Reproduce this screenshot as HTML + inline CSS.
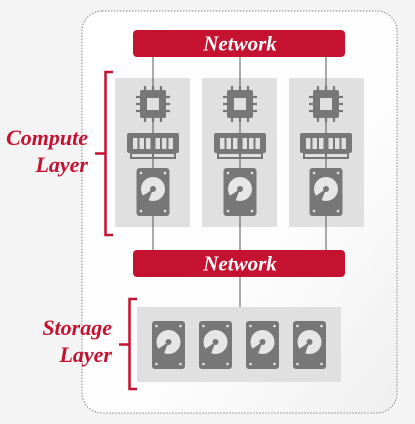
<!DOCTYPE html>
<html><head><style>
html,body{margin:0;padding:0;width:415px;height:424px;overflow:hidden;background:#f4f4f4}
svg{display:block}
text{font-family:"Liberation Serif",serif;font-style:italic;font-weight:bold}
</style></head><body>
<svg width="415" height="424" viewBox="0 0 415 424" xmlns="http://www.w3.org/2000/svg">
<defs>
<linearGradient id="bg" x1="0" y1="0" x2="1" y2="1">
<stop offset="0" stop-color="#ffffff"/><stop offset="0.6" stop-color="#fdfdfd"/><stop offset="1" stop-color="#efefef"/>
</linearGradient>
<g id="cpu">
<rect x="-13" y="-14" width="26" height="28" rx="2" fill="#777"/>
<rect x="-6" y="-6" width="12" height="12" fill="#e0e0e0"/>
<g stroke="#777" stroke-width="2.2">
<line x1="-8" y1="-14" x2="-8" y2="-18"/><line x1="0" y1="-14" x2="0" y2="-18"/><line x1="8" y1="-14" x2="8" y2="-18"/>
<line x1="-8" y1="14" x2="-8" y2="18"/><line x1="0" y1="14" x2="0" y2="18"/><line x1="8" y1="14" x2="8" y2="18"/>
<line x1="-13" y1="-7" x2="-17" y2="-7"/><line x1="-13" y1="0" x2="-17" y2="0"/><line x1="-13" y1="7" x2="-17" y2="7"/>
<line x1="13" y1="-7" x2="17" y2="-7"/><line x1="13" y1="0" x2="17" y2="0"/><line x1="13" y1="7" x2="17" y2="7"/>
</g>
</g>
<g id="ram">
<rect x="-26" y="-13" width="52" height="20" rx="2" fill="#777"/>
<rect x="-23" y="7" width="46" height="6" fill="#777"/>
<rect x="-21" y="8" width="42" height="3" fill="#e0e0e0"/>
<rect x="-1" y="7" width="2" height="6" fill="#777"/>
<g fill="#e0e0e0">
<rect x="-20" y="-8" width="4.5" height="11"/><rect x="-13.5" y="-8" width="4.5" height="11"/><rect x="-7" y="-8" width="4.5" height="11"/>
<rect x="2.5" y="-8" width="4.5" height="11"/><rect x="9" y="-8" width="4.5" height="11"/><rect x="15.5" y="-8" width="4.5" height="11"/>
</g>
</g>
<g id="disk">
<rect x="-16.5" y="-24" width="33" height="48" rx="3" fill="#777"/>
<circle cx="0" cy="-3" r="12" fill="#e6e6e6"/>
<path d="M0,-3 L-12,5 L-5,10 Z" fill="#777"/>
<circle cx="0" cy="-3" r="3" fill="#777"/>
<g fill="#e6e6e6"><circle cx="-12" cy="-19" r="1.3"/><circle cx="12" cy="-19" r="1.3"/><circle cx="-12" cy="19" r="1.3"/><circle cx="12" cy="19" r="1.3"/></g>
</g>
</defs>
<rect x="82" y="11" width="315" height="402" rx="20" fill="url(#bg)" stroke="#888" stroke-width="1" stroke-dasharray="1.5,1.5"/>
<rect x="115" y="78" width="75" height="149" fill="#e0e0e0"/>
<rect x="202" y="78" width="75" height="149" fill="#e0e0e0"/>
<rect x="289" y="78" width="75" height="149" fill="#e0e0e0"/>
<g stroke="#555" stroke-width="1">
<line x1="153" y1="57" x2="153" y2="250"/><line x1="240" y1="57" x2="240" y2="250"/><line x1="326" y1="57" x2="326" y2="250"/>
<line x1="240" y1="277" x2="240" y2="307"/>
</g>
<use href="#cpu" x="153" y="104"/><use href="#cpu" x="240" y="104"/><use href="#cpu" x="326" y="104"/>
<use href="#ram" x="153" y="146"/><use href="#ram" x="240" y="146"/><use href="#ram" x="326" y="146"/>
<use href="#disk" x="153" y="192"/><use href="#disk" x="240" y="192"/><use href="#disk" x="326" y="192"/>
<rect x="133" y="30" width="212" height="27" rx="4" fill="#c41230"/>
<text x="240" y="50.5" font-size="21" fill="#fff" text-anchor="middle">Network</text>
<rect x="133" y="250" width="212" height="27" rx="4" fill="#c41230"/>
<text x="240" y="270.5" font-size="21" fill="#fff" text-anchor="middle">Network</text>
<rect x="137" y="307" width="204" height="75" fill="#e0e0e0"/>
<use href="#disk" x="168.5" y="345"/><use href="#disk" x="215.5" y="345"/><use href="#disk" x="262.5" y="345"/><use href="#disk" x="309.5" y="345"/>
<g stroke="#c41230" stroke-width="2.5" fill="none">
<path d="M113,72 H105.5 V235 H113"/><line x1="95" y1="153.5" x2="105" y2="153.5"/>
<path d="M137,299 H129.5 V389 H137"/><line x1="119" y1="344.5" x2="129" y2="344.5"/>
</g>
<text x="88" y="145" font-size="22" fill="#c41230" text-anchor="end">Compute</text>
<text x="88" y="172" font-size="22" fill="#c41230" text-anchor="end">Layer</text>
<text x="112" y="335" font-size="22" fill="#c41230" text-anchor="end">Storage</text>
<text x="112" y="362" font-size="22" fill="#c41230" text-anchor="end">Layer</text>
</svg>
</body></html>
